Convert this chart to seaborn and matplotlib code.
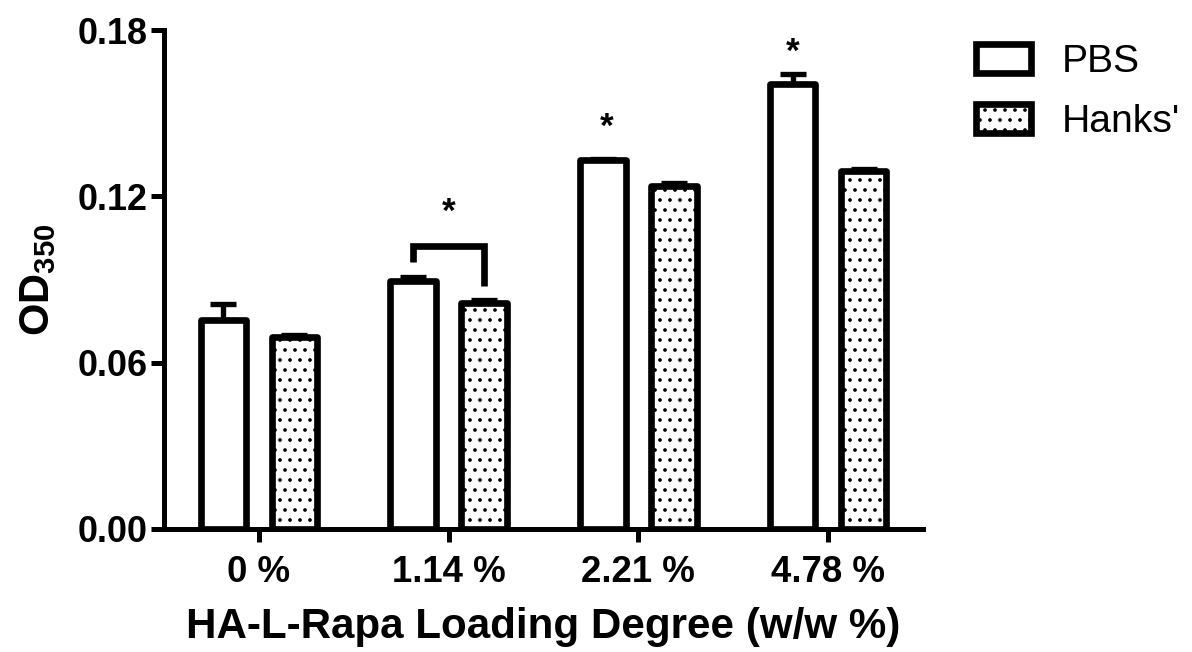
import matplotlib
matplotlib.use("Agg")
import matplotlib.pyplot as plt
import pandas as pd
import seaborn as sns
from matplotlib.patches import Patch

# Turbidity (OD350) of HA-L-Rapa micelles in two media
loading = ["0 %", "1.14 %", "2.21 %", "4.78 %"]
media = ["PBS", "Hanks'"]
od_pbs = [0.0754, 0.0893, 0.1330, 0.1607]
od_hanks = [0.0693, 0.0817, 0.1239, 0.1293]
sem_pbs = [0.0058, 0.0015, 0.0005, 0.0033]
sem_hanks = [0.0005, 0.0010, 0.0008, 0.0005]
y_ticks = [0.00, 0.06, 0.12, 0.18]

sns.set_theme(style="ticks")
plt.rcParams["font.family"] = ["Liberation Sans", "DejaVu Sans"]
plt.rcParams["mathtext.fontset"] = "custom"
plt.rcParams["mathtext.bf"] = "Liberation Sans:bold"
plt.rcParams["mathtext.rm"] = "Liberation Sans"
plt.rcParams["hatch.linewidth"] = 1.0
plt.rcParams["hatch.color"] = "black"
for key in ("text.color", "axes.labelcolor", "axes.edgecolor",
            "xtick.color", "ytick.color"):
    plt.rcParams[key] = "black"

df = pd.DataFrame({
    "Loading": loading * 2,
    "Medium": [media[0]] * len(loading) + [media[1]] * len(loading),
    "OD": od_pbs + od_hanks,
})

DPI = 120
fig = plt.figure(figsize=(1192 / DPI, 652 / DPI), dpi=DPI)
ax = fig.add_axes([164 / 1192, 1 - 529 / 652, (923 - 164) / 1192, (529 - 30) / 652])

sns.barplot(data=df, x="Loading", y="OD", hue="Medium", order=loading,
            hue_order=media, palette=["white", "white"], saturation=1,
            edgecolor="black", linewidth=4, width=0.75, gap=0.36,
            errorbar=None, legend=False, ax=ax)

for bar in ax.containers[1]:
    bar.set_hatch("..")

# one-sided (upper) error bars
for container, errs in zip(ax.containers, [sem_pbs, sem_hanks]):
    for bar, e in zip(container, errs):
        bar.set_joinstyle("round")
        xc = bar.get_x() + bar.get_width() / 2
        ax.errorbar(xc, bar.get_height(), yerr=[[0], [e]], fmt="none",
                    ecolor="black", elinewidth=3.2, capsize=7.8,
                    capthick=3.2, zorder=0.5)

# significance marks
pbs_bars = list(ax.containers[0])
hanks_bars = list(ax.containers[1])


def center(b):
    return b.get_x() + b.get_width() / 2


x1, x2 = center(pbs_bars[1]), center(hanks_bars[1])
ax.plot([x1, x1, x2, x2], [0.0963, 0.1021, 0.1021, 0.0877], color="black",
        lw=4, solid_joinstyle="miter", solid_capstyle="butt", clip_on=False)
star_kw = dict(ha="center", va="center", fontsize=21, fontweight="bold",
               color="black")
ax.text((x1 + x2) / 2, 0.1143, "*", **star_kw)
ax.text(center(pbs_bars[2]) + 0.02, 0.1450, "*", **star_kw)
ax.text(center(pbs_bars[3]), 0.1720, "*", **star_kw)

ax.set_xlim(-0.5, len(loading) - 0.5)
ax.set_ylim(0, 0.18)
ax.set_yticks(y_ticks)
ax.set_yticklabels([f"{v:.2f}" for v in y_ticks])
sns.despine(ax=ax)
for side in ("left", "bottom"):
    ax.spines[side].set_linewidth(3)
ax.tick_params(axis="both", width=3, length=7.8, direction="out", color="black")
ax.tick_params(axis="y", labelsize=21.5, pad=2)
ax.tick_params(axis="x", labelsize=22, pad=8)
for lab in ax.get_xticklabels() + ax.get_yticklabels():
    lab.set_fontweight("bold")

ax.set_xlabel("HA-L-Rapa Loading Degree (w/w %)", fontsize=25.3,
              fontweight="bold", labelpad=10)
ax.set_ylabel(r"$\mathbf{OD}_{\mathbf{350}}$", fontsize=25, labelpad=12)

handles = [
    Patch(facecolor="white", edgecolor="black", linewidth=4),
    Patch(facecolor="white", edgecolor="black", linewidth=4, hatch=".."),
]
fig.legend(handles, media, loc="upper left",
           bbox_to_anchor=(976 / 1192, 1 - 44 / 652), frameon=False,
           fontsize=23.5, handlelength=1.4, handleheight=0.75,
           labelspacing=0.62, handletextpad=0.8, borderpad=0,
           borderaxespad=0)

fig.savefig("out.png", dpi=DPI)
